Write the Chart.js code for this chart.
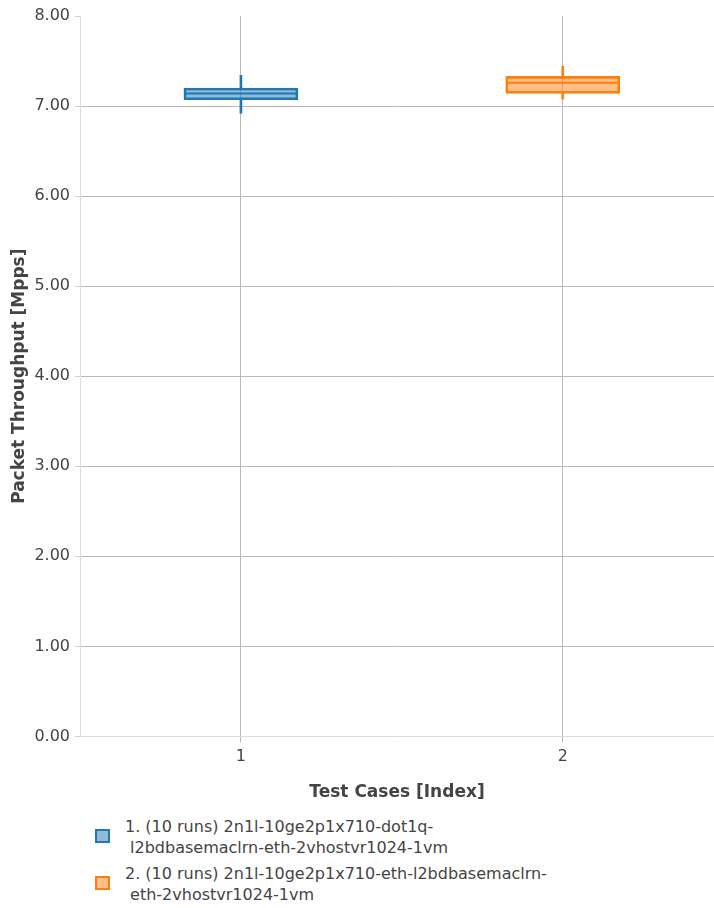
<!DOCTYPE html>
<html>
<head>
<meta charset="utf-8">
<script src="https://cdn.jsdelivr.net/npm/chart.js@4"></script>
<style>
  body { margin: 0; background: #fff; }
  #wrap { position: relative; width: 714px; height: 908px; }
  #legend { position: absolute; left: 95px; top: 816px; font: 16px 'DejaVu Sans', sans-serif; color: #444; }
  .item { position: relative; padding-left: 30px; line-height: 21px; height: 47px; white-space: pre; }
  .swatch { position: absolute; left: 0; top: 13px; width: 15px; height: 14px; box-sizing: border-box; border: 2px solid; }
</style>
</head>
<body>
<div id="wrap">
  <canvas id="boxChart" width="714" height="815"></canvas>
  <div id="legend"></div>
</div>
<script>
// test case index on the x axis
var testCases = [1, 2];
var runNames = [
  ['1. (10 runs) 2n1l-10ge2p1x710-dot1q-', ' l2bdbasemaclrn-eth-2vhostvr1024-1vm'],
  ['2. (10 runs) 2n1l-10ge2p1x710-eth-l2bdbasemaclrn-', ' eth-2vhostvr1024-1vm']
];
// box statistics, Mpps
var mins    = [6.92, 7.08];
var q1s     = [7.07, 7.14];
var medians = [7.14, 7.26];
var q3s     = [7.20, 7.33];
var maxs    = [7.34, 7.44];

var lineColors = ['#1f77b4', '#ff7f0e'];
var fillColors = ['rgba(31, 119, 180, 0.5)', 'rgba(255, 127, 14, 0.5)'];

var FONT = "'DejaVu Sans', sans-serif";
var gridGray = '#b8b8b8';
var axisGray = '#dcdcdc';

var datasets = [];
testCases.forEach(function (tc, i) {
  datasets.push({
    label: runNames[i].join(''),
    boxIndex: i,
    data: [{x: tc, y: [q1s[i], q3s[i]]}],
    backgroundColor: fillColors[i],
    borderColor: lineColors[i],
    borderWidth: 2,
    borderSkipped: false,
    grouped: false,
    barPercentage: 1,
    categoryPercentage: 1,
    maxBarThickness: 114
  });
  // whiskers above and below the box
  datasets.push({
    label: 'whiskers ' + tc,
    data: [{x: tc, y: [q3s[i], maxs[i]]}, {x: tc, y: [mins[i], q1s[i]]}],
    backgroundColor: lineColors[i],
    borderWidth: 0,
    grouped: false,
    barPercentage: 1,
    categoryPercentage: 1,
    maxBarThickness: 2
  });
});

var medianLines = {
  id: 'medianLines',
  afterDatasetsDraw: function (chart) {
    var ctx = chart.ctx;
    var yScale = chart.scales.y;
    chart.data.datasets.forEach(function (ds, di) {
      if (ds.boxIndex === undefined) return;
      var bar = chart.getDatasetMeta(di).data[0];
      var py = yScale.getPixelForValue(medians[ds.boxIndex]);
      ctx.save();
      ctx.strokeStyle = ds.borderColor;
      ctx.lineWidth = 2;
      ctx.beginPath();
      ctx.moveTo(bar.x - bar.width / 2, py);
      ctx.lineTo(bar.x + bar.width / 2, py);
      ctx.stroke();
      ctx.restore();
    });
  }
};

var chart = new Chart(document.getElementById('boxChart'), {
  type: 'bar',
  data: { datasets: datasets },
  plugins: [medianLines],
  options: {
    responsive: false,
    animation: false,
    layout: { padding: { top: 16, left: 0, right: 0, bottom: 0 } },
    plugins: {
      legend: { display: false },
      tooltip: { enabled: false }
    },
    scales: {
      x: {
        type: 'linear',
        offset: false,
        min: 0.5,
        max: 2.47,
        afterBuildTicks: function (axis) {
          axis.ticks = testCases.map(function (v) { return {value: v}; });
        },
        ticks: { font: { family: FONT, size: 16 }, color: '#444', padding: 5 },
        grid: { offset: false, color: gridGray, tickLength: 6, tickColor: gridGray },
        border: { color: axisGray },
        title: {
          display: true,
          text: 'Test Cases [Index]',
          color: '#444',
          font: { family: FONT, size: 17, weight: 'bold' },
          padding: { top: 11, bottom: 12 }
        }
      },
      y: {
        min: 0,
        max: 8,
        ticks: {
          stepSize: 1,
          font: { family: FONT, size: 16 },
          color: '#444',
          padding: 5,
          callback: function (v) { return v.toFixed(2); }
        },
        grid: {
          color: function (c) {
            if (c.tick.value === 8) return 'rgba(0,0,0,0)';
            if (c.tick.value === 0) return axisGray;
            return gridGray;
          },
          tickLength: 5,
          tickColor: '#d0d0d0'
        },
        border: { color: axisGray },
        title: {
          display: true,
          text: 'Packet Throughput [Mpps]',
          color: '#444',
          font: { family: FONT, size: 17, weight: 'bold' },
          padding: { top: 9, bottom: 0 }
        }
      }
    }
  }
});

// html legend built from the box datasets
var legend = document.getElementById('legend');
chart.data.datasets.forEach(function (ds) {
  if (ds.boxIndex === undefined) return;
  var item = document.createElement('div');
  item.className = 'item';
  var sw = document.createElement('span');
  sw.className = 'swatch';
  sw.style.background = ds.backgroundColor;
  sw.style.borderColor = ds.borderColor;
  item.appendChild(sw);
  item.appendChild(document.createTextNode(runNames[ds.boxIndex].join('\n')));
  legend.appendChild(item);
});
</script>
</body>
</html>
